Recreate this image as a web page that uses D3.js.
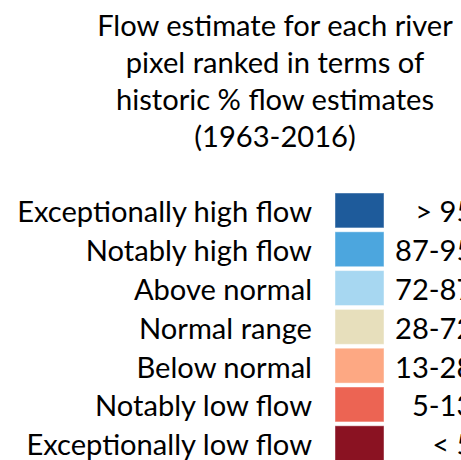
<!DOCTYPE html>
<html>
<head>
<meta charset="utf-8">
<script src="https://cdn.jsdelivr.net/npm/d3@7"></script>
<style>
  html, body { margin: 0; padding: 0; background: #fff; overflow: hidden; }
  svg { display: block; }
</style>
</head>
<body>
<svg width="461" height="460"></svg>
<script>
// legend content, top (wettest) to bottom (driest)
const titleLines = [
    "Flow estimate for each river",
    "pixel ranked in terms of",
    "historic % flow estimates",
    "(1963-2016)"
];
const categories = [
    "Exceptionally high flow",
    "Notably high flow",
    "Above normal",
    "Normal range",
    "Below normal",
    "Notably low flow",
    "Exceptionally low flow"
];
const rankLabels = ["> 95", "87-95", "72-87", "28-72", "13-28", "5-13", "< 5"];
const colors = ["#1e5b9b", "#4ca6de", "#a7d7f1", "#e7dfbc", "#fda883", "#ec6453", "#8a1222"];

const svg = d3.select("svg");
const fontFamily = "Lato, 'Open Sans', sans-serif";

// pick a font size so the substitute font spans the same width as the original
function fitSize(str, targetWidth) {
    const t = svg.append("text")
        .style("font-family", fontFamily)
        .style("font-size", "100px")
        .text(str);
    const w = t.node().getComputedTextLength();
    t.remove();
    return 100 * targetWidth / w;
}
const fontSize = fitSize("Exceptionally high flow", 295);

// title
svg.append("g")
    .selectAll("text")
    .data(titleLines)
    .enter()
    .append("text")
    .attr("x", 275)
    .attr("y", (d, i) => 36 + i * 37)
    .attr("text-anchor", "middle")
    .style("font-family", fontFamily)
    .style("font-size", fontSize + "px")
    .attr("fill", "#000")
    .text(d => d);

// rows of the legend
const y = d3.scaleBand()
    .domain(categories)
    .range([193, 193 + 38.8 * (categories.length - 0.1)])
    .paddingInner(0.1)
    .paddingOuter(0);

const color = d3.scaleOrdinal()
    .domain(categories)
    .range(colors);

const rank = d3.scaleOrdinal()
    .domain(categories)
    .range(rankLabels);

const rows = svg.append("g")
    .selectAll("g")
    .data(categories)
    .enter()
    .append("g");

rows.append("rect")
    .attr("x", 335)
    .attr("y", d => y(d))
    .attr("width", 49)
    .attr("height", y.bandwidth())
    .attr("fill", d => color(d))
    .attr("stroke", "#ffffff")
    .attr("stroke-opacity", 0.45)
    .attr("stroke-width", 1);

rows.append("text")
    .attr("x", 312)
    .attr("y", d => y(d) + y.bandwidth() / 2 + 12)
    .attr("text-anchor", "end")
    .style("font-family", fontFamily)
    .style("font-size", fontSize + "px")
    .text(d => d);

// right hand labels, right aligned (partly cut off by the frame edge)
const probe = svg.append("text")
    .style("font-family", fontFamily)
    .style("font-size", fontSize + "px")
    .text("87-95");
const rankRight = 395 + probe.node().getComputedTextLength();
probe.remove();

rows.append("text")
    .attr("x", rankRight)
    .attr("y", d => y(d) + y.bandwidth() / 2 + 12)
    .attr("text-anchor", "end")
    .style("font-family", fontFamily)
    .style("font-size", fontSize + "px")
    .text(d => rank(d));
</script>
</body>
</html>
